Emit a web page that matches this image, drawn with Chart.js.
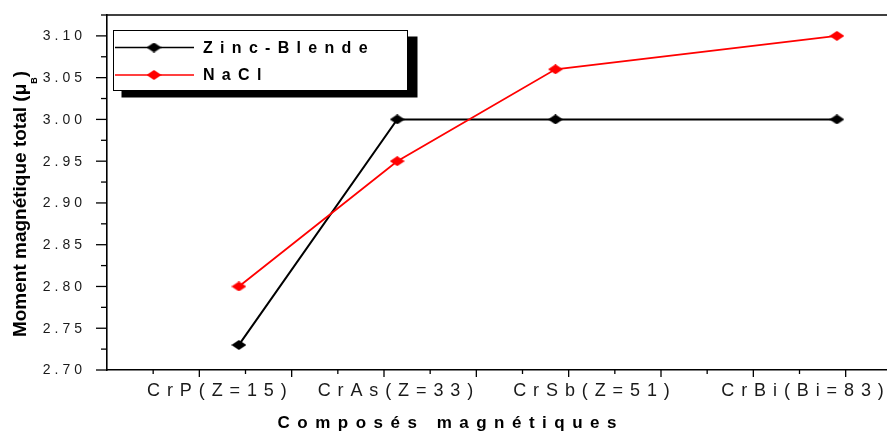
<!DOCTYPE html>
<html><head><meta charset="utf-8">
<script src="https://cdn.jsdelivr.net/npm/chart.js@4/dist/chart.umd.min.js"></script>
<style>html,body{margin:0;padding:0;background:#fff;}#wrap{width:887px;height:432px;position:relative;}</style>
</head><body><div id="wrap"><canvas id="c"></canvas></div>
<script>
// ---- data ----
const zValues = [15, 33, 51, 83];
const categoryLabels = ['CrP(Z=15)', 'CrAs(Z=33)', 'CrSb(Z=51)', 'CrBi(Bi=83)'];
const categoryLabelPositions = [12.5, 32.8, 55.1, 79.1];
const zincBlende = [2.73, 3.00, 3.00, 3.00];
const nacl = [2.80, 2.95, 3.06, 3.10];
const seriesNames = ['Zinc-Blende', 'NaCl'];
const yTickValues = [2.70, 2.75, 2.80, 2.85, 2.90, 2.95, 3.00, 3.05, 3.10];
const yTickLabels = ['2.70', '2.75', '2.80', '2.85', '2.90', '2.95', '3.00', '3.05', '3.10'];
const yMinorTicks = [2.725, 2.775, 2.825, 2.875, 2.925, 2.975, 3.025, 3.075, 3.125];
const xMajorTicks = [10.5, 21, 31.5, 42, 52.5, 63, 73.5, 84];
const xMinorTicks = [5.25, 15.75, 26.25, 36.75, 47.25, 57.75, 68.25, 78.75];
const xTitle = 'Composés magnétiques';
const yTitleMain = 'Moment magnétique total (μ';
const yTitleSub = 'B';
const yTitleEnd = ')';

function diamond(color) {
  const c = document.createElement('canvas');
  c.width = 15; c.height = 10;
  const g = c.getContext('2d');
  g.fillStyle = color;
  g.beginPath();
  g.moveTo(0, 5); g.lineTo(7.5, 0); g.lineTo(15, 5); g.lineTo(7.5, 10); g.closePath();
  g.fill();
  return c;
}
const blackD = diamond('#000000');
const redD = diamond('#ff0000');

const FONT = '"Liberation Sans", Arial, sans-serif';

function spacedText(ctx, text, x, y, spacing, align) {
  ctx.letterSpacing = spacing + 'px';
  const w = ctx.measureText(text).width - spacing;
  let sx = x;
  if (align === 'center') sx = x - w / 2;
  else if (align === 'right') sx = x - w;
  ctx.textAlign = 'left';
  ctx.fillText(text, sx, y);
  ctx.letterSpacing = '0px';
}

const decor = {
  id: 'decor',
  afterDraw(chart) {
    const ctx = chart.ctx;
    const a = chart.chartArea;
    const xs = chart.scales.x, ys = chart.scales.y;
    ctx.save();
    // top frame
    ctx.strokeStyle = '#000'; ctx.lineWidth = 1.6;
    ctx.beginPath(); ctx.moveTo(a.left, a.top); ctx.lineTo(a.right, a.top); ctx.stroke();
    // y ticks
    ctx.lineWidth = 1.3;
    yTickValues.forEach(v => { const p = ys.getPixelForValue(v); ctx.beginPath(); ctx.moveTo(a.left, p); ctx.lineTo(a.left - 11, p); ctx.stroke(); });
    yMinorTicks.forEach(v => { const p = ys.getPixelForValue(v); ctx.beginPath(); ctx.moveTo(a.left, p); ctx.lineTo(a.left - 6, p); ctx.stroke(); });
    // x ticks
    xMajorTicks.forEach(v => { const p = xs.getPixelForValue(v); ctx.beginPath(); ctx.moveTo(p, a.bottom); ctx.lineTo(p, a.bottom + 7); ctx.stroke(); });
    xMinorTicks.forEach(v => { const p = xs.getPixelForValue(v); ctx.beginPath(); ctx.moveTo(p, a.bottom); ctx.lineTo(p, a.bottom + 4); ctx.stroke(); });
    // y tick labels
    ctx.fillStyle = '#1a1a1a';
    ctx.font = '14px ' + FONT;
    ctx.textBaseline = 'middle';
    yTickValues.forEach((v, i) => spacedText(ctx, yTickLabels[i], 82, ys.getPixelForValue(v) + 0.5, 4, 'right'));
    // x category labels
    ctx.font = '18px ' + FONT;
    ctx.textBaseline = 'alphabetic';
    categoryLabels.forEach((t, i) => spacedText(ctx, t, xs.getPixelForValue(categoryLabelPositions[i]), 396, 6.9, 'center'));
    // x title
    ctx.fillStyle = '#000';
    ctx.font = 'bold 17px ' + FONT;
    spacedText(ctx, xTitle, 447, 428, 7.5, 'center');
    // y title (rotated)
    ctx.save();
    ctx.translate(26, 204);
    ctx.rotate(-Math.PI / 2);
    ctx.font = 'bold 19px ' + FONT;
    const w1 = ctx.measureText(yTitleMain).width;
    const w3 = ctx.measureText(yTitleEnd).width;
    ctx.font = 'bold 9px ' + FONT;
    const w2 = ctx.measureText(yTitleSub).width;
    const total = w1 + w2 + w3;
    let x0 = -total / 2;
    ctx.textAlign = 'left';
    ctx.font = 'bold 19px ' + FONT;
    ctx.fillText(yTitleMain, x0, 0);
    ctx.font = 'bold 9px ' + FONT;
    ctx.fillText(yTitleSub, x0 + w1, 11);
    ctx.font = 'bold 19px ' + FONT;
    ctx.fillText(yTitleEnd, x0 + w1 + w2, 0);
    ctx.restore();
    // legend
    const bx = 113.5, by = 30.5, bw = 294, bh = 60;
    ctx.fillStyle = '#000';
    ctx.fillRect(bx + 8, by + 6, bw + 2, bh + 1);
    ctx.fillStyle = '#fff';
    ctx.fillRect(bx, by, bw, bh);
    ctx.strokeStyle = '#000'; ctx.lineWidth = 1;
    ctx.strokeRect(bx, by, bw, bh);
    const rows = [47.5, 75];
    chart.data.datasets.forEach(ds => {
      const idx = seriesNames.indexOf(ds.label);
      const ry = rows[idx];
      ctx.strokeStyle = ds.borderColor; ctx.lineWidth = 1.3;
      ctx.beginPath(); ctx.moveTo(115, ry); ctx.lineTo(194, ry); ctx.stroke();
      const img = ds.pointStyle;
      ctx.drawImage(img, 154 - img.width / 2, ry - img.height / 2);
      ctx.fillStyle = '#000';
      ctx.font = 'bold 16px ' + FONT;
      ctx.textBaseline = 'middle';
      spacedText(ctx, ds.label, 203, ry + 1, 7.3, 'left');
    });
    ctx.restore();
  }
};

new Chart(document.getElementById('c'), {
  type: 'line',
  data: {
    datasets: [
      { label: seriesNames[0], data: zValues.map((z, i) => ({ x: z, y: zincBlende[i] })),
        borderColor: '#000000', backgroundColor: '#000000', borderWidth: 2,
        pointStyle: blackD, pointRadius: 6, pointHoverRadius: 6, order: 1 },
      { label: seriesNames[1], data: zValues.map((z, i) => ({ x: z, y: nacl[i] })),
        borderColor: '#ff0000', backgroundColor: '#ff0000', borderWidth: 1.8,
        pointStyle: redD, pointRadius: 6, pointHoverRadius: 6, order: 0 }
    ]
  },
  options: {
    responsive: true, maintainAspectRatio: false, animation: false,
    layout: { autoPadding: false, padding: { left: 107, right: 0, top: 15, bottom: 62 } },
    plugins: { legend: { display: false }, tooltip: { enabled: false }, title: { display: false } },
    scales: {
      x: { type: 'linear', min: 0, max: 88.7,
        grid: { display: false, drawTicks: false },
        ticks: { display: false },
        border: { display: true, color: '#000', width: 1.6 } },
      y: { type: 'linear', min: 2.70, max: 3.125,
        grid: { display: false, drawTicks: false },
        ticks: { display: false },
        border: { display: true, color: '#000', width: 1.6 } }
    }
  },
  plugins: [decor]
});
</script></body></html>
